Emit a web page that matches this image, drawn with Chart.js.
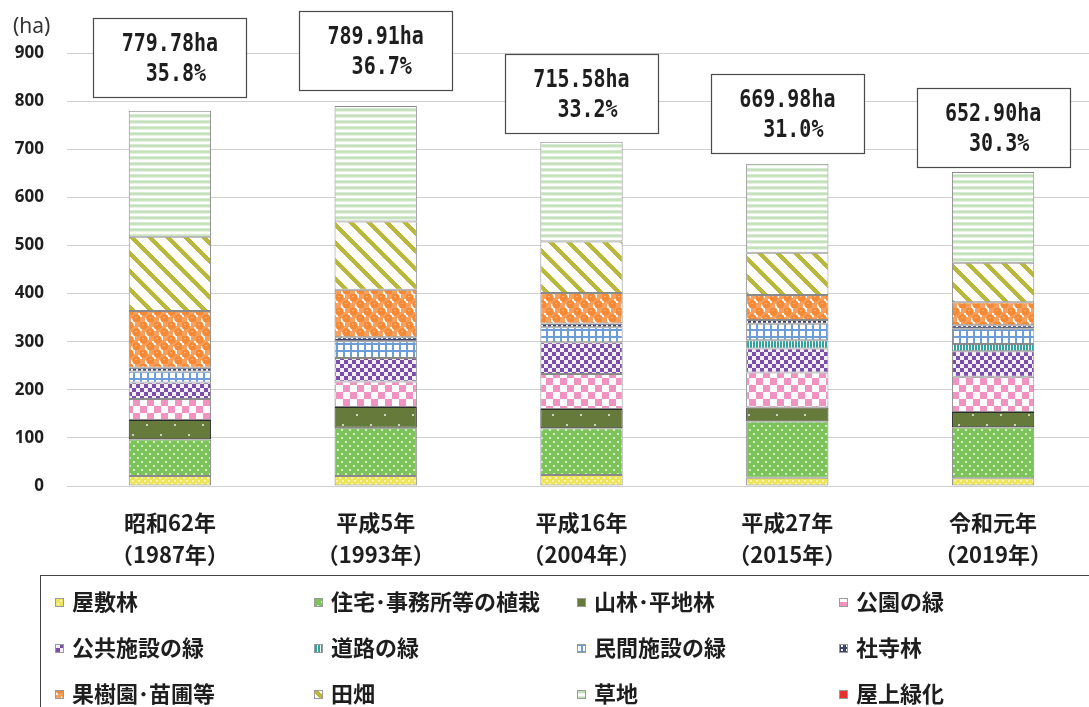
<!DOCTYPE html>
<html lang="ja">
<head>
<meta charset="utf-8">
<script src="https://cdn.jsdelivr.net/npm/chart.js@4.4.1/dist/chart.umd.min.js"></script>
<style>
html, body { margin: 0; padding: 0; background: #fff; overflow: hidden; }
#wrap { position: relative; width: 1100px; height: 707px; }
</style>
</head>
<body>
<div id="wrap"><canvas id="greenChart" width="1100" height="707"></canvas></div>
<script>
// 年次（X軸）
const years = [
    ['昭和62年', '（1987年）'],
    ['平成5年', '（1993年）'],
    ['平成16年', '（2004年）'],
    ['平成27年', '（2015年）'],
    ['令和元年', '（2019年）']
];

// 各区分の面積 (ha)
const yashikirin = [21, 21, 23, 17, 16];
const jutaku     = [76, 100, 97, 117, 106];
const sanrin     = [40, 43, 40, 29, 32];
const koen       = [44, 53, 73, 73, 73];
const kokyo      = [34, 49, 66, 50, 53];
const doro       = [0, 0, 0, 17, 15];
const minkan     = [23, 35, 31, 34, 32];
const shajirin   = [8, 8, 8, 8, 7];
const kaju       = [118, 99, 63, 52, 48];
const tahata     = [154, 142, 107, 88, 82];
const kusachi    = [261.78, 239.91, 207.58, 184.98, 188.90];
const okujo      = [0, 0, 0, 0, 0];

// 吹き出しの数値
const totalArea  = [779.78, 789.91, 715.58, 669.98, 652.90];
const greenRatio = [35.8, 36.7, 33.2, 31.0, 30.3];

const yTicks = [0, 100, 200, 300, 400, 500, 600, 700, 800, 900];

// --- 塗りパターン ---
function tile(w, h, paint) {
    const c = document.createElement('canvas');
    c.width = w; c.height = h;
    const g = c.getContext('2d');
    paint(g, w, h);
    return g.createPattern(c, 'repeat');
}

const patYashiki = tile(6, 6, (g) => {
    g.fillStyle = '#ece55a'; g.fillRect(0, 0, 6, 6);
    g.fillStyle = '#f8f3ae';
    g.fillRect(0, 0, 2, 2); g.fillRect(3, 3, 2, 2);
});
const patJutaku = tile(8, 8, (g) => {
    g.fillStyle = '#7cc45a'; g.fillRect(0, 0, 8, 8);
    g.fillStyle = '#f2faec';
    g.beginPath(); g.arc(2, 2, 1.0, 0, Math.PI * 2); g.fill();
    g.beginPath(); g.arc(6, 6, 1.0, 0, Math.PI * 2); g.fill();
});
const patSanrin = tile(28, 20, (g) => {
    g.fillStyle = '#657a3b'; g.fillRect(0, 0, 28, 20);
    g.fillStyle = '#e8eedc';
    g.beginPath(); g.arc(7, 5, 1.1, 0, Math.PI * 2); g.fill();
    g.beginPath(); g.arc(21, 15, 1.1, 0, Math.PI * 2); g.fill();
});
const patKoen = tile(14, 14, (g) => {
    g.fillStyle = '#ffffff'; g.fillRect(0, 0, 14, 14);
    g.fillStyle = '#f093c1';
    g.fillRect(0, 0, 7, 7); g.fillRect(7, 7, 7, 7);
});
const patKokyo = tile(8, 8, (g) => {
    g.fillStyle = '#f4f0f8'; g.fillRect(0, 0, 8, 8);
    g.fillStyle = '#7a4ea9';
    g.fillRect(0, 0, 4, 4); g.fillRect(4, 4, 4, 4);
});
const patDoro = tile(3, 1, (g) => {
    g.fillStyle = '#32a39c'; g.fillRect(0, 0, 2, 1);
    g.fillStyle = '#ffffff'; g.fillRect(2, 0, 1, 1);
});
const patMinkan = tile(7, 7, (g) => {
    g.fillStyle = '#ffffff'; g.fillRect(0, 0, 7, 7);
    g.fillStyle = '#6c9dd9';
    g.fillRect(0, 0, 7, 2); g.fillRect(0, 0, 2, 7);
});
const patShaji = tile(5, 4, (g) => {
    g.fillStyle = '#3a416e'; g.fillRect(0, 0, 5, 4);
    g.fillStyle = '#ffffff'; g.fillRect(1, 1, 2, 2);
});
const patKaju = tile(14, 14, (g) => {
    g.fillStyle = '#f7a05e'; g.fillRect(0, 0, 14, 14);
    g.fillStyle = '#ffffff';
    g.fillRect(5, 0, 4, 4); g.fillRect(12, 5, 2, 4); g.fillRect(0, 5, 2, 4);
    g.fillRect(5, 10, 4, 4);
    g.fillStyle = '#f48a35';
    g.beginPath(); g.arc(3.5, 3.5, 4.2, 0, Math.PI * 2); g.fill();
    g.beginPath(); g.arc(10.5, 10.5, 4.2, 0, Math.PI * 2); g.fill();
    g.fillStyle = '#f9b27c';
    g.fillRect(2, 2, 2, 1); g.fillRect(9, 9, 2, 1);
});
const patTahata = tile(18, 18, (g) => {
    const img = g.createImageData(18, 18);
    for (let y = 0; y < 18; y++) {
        for (let x = 0; x < 18; x++) {
            const k = (y * 18 + x) * 4;
            const on = (((x - y) % 18) + 18) % 18 < 6;
            img.data[k] = on ? 0xb9 : 0xff;
            img.data[k + 1] = on ? 0xb8 : 0xff;
            img.data[k + 2] = on ? 0x3a : 0xff;
            img.data[k + 3] = 255;
        }
    }
    g.putImageData(img, 0, 0);
});
const patKusachi = tile(1, 6, (g) => {
    const rows = ['#d6ebd2', '#c2e0bb', '#c6e2bf', '#e6f3e3', '#ffffff', '#ffffff'];
    rows.forEach((c, i) => { g.fillStyle = c; g.fillRect(0, i, 1, 1); });
});

const barBorder = '#8a8a8a';

function series(label, data, fill, border) {
    return {
        label: label,
        data: data,
        backgroundColor: fill,
        borderColor: border || barBorder,
        borderWidth: 1,
        borderSkipped: false
    };
}

// 吹き出し（合計面積・緑被率）
const boxGap = [14, 16, 9, 11, 5];
const totalBoxes = {
    id: 'totalBoxes',
    afterDatasetsDraw(chart) {
        const ctx = chart.ctx;
        const xs = chart.scales.x, ys = chart.scales.y;
        ctx.save();
        for (let i = 0; i < totalArea.length; i++) {
            const cx = xs.getPixelForValue(i);
            const top = ys.getPixelForValue(totalArea[i]);
            const w = 153, h = 79;
            const bx = Math.round(cx - w / 2) + 0.5;
            const by = Math.round(top - boxGap[i] - h) + 0.5;
            ctx.fillStyle = '#fff';
            ctx.fillRect(bx, by, w, h);
            ctx.strokeStyle = '#4a4a4a';
            ctx.lineWidth = 1.2;
            ctx.strokeRect(bx, by, w, h);

            const line1 = totalArea[i].toFixed(2) + 'ha';
            const line2 = '  ' + greenRatio[i].toFixed(1) + '%';
            ctx.font = 'bold 20px "DejaVu Sans Mono"';
            ctx.fillStyle = '#1e1e1e';
            ctx.textBaseline = 'middle';
            ctx.textAlign = 'left';
            const tx = cx - ctx.measureText(line1).width / 2;
            [[line1, 26], [line2, 56]].forEach(([t, dy]) => {
                ctx.save();
                ctx.translate(tx, by + dy);
                ctx.scale(1, 1.25);
                ctx.fillText(t, 0, 0);
                ctx.restore();
            });
        }
        ctx.restore();
    }
};

// 凡例（4列×3行）と単位
const legendCols = [72, 331, 594, 856];
const legendRows = [602, 648, 694];
const gridLegend = {
    id: 'gridLegend',
    afterDraw(chart) {
        const ctx = chart.ctx;
        ctx.save();
        ctx.strokeStyle = '#444';
        ctx.lineWidth = 1;
        ctx.strokeRect(40.5, 575.5, 1100, 200);

        ctx.font = 'bold 22px "Noto Sans CJK JP"';
        ctx.textBaseline = 'middle';
        ctx.textAlign = 'left';
        chart.data.datasets.forEach((ds, k) => {
            const tx = legendCols[k % 4];
            const ty = legendRows[Math.floor(k / 4)];
            const mx = tx - 17, my = ty - 4;
            ctx.fillStyle = ds.backgroundColor;
            ctx.fillRect(mx, my, 9, 9);
            ctx.strokeStyle = '#9a9a9a';
            ctx.strokeRect(mx + 0.5, my + 0.5, 8, 8);
            ctx.fillStyle = '#1e1e1e';
            ctx.fillText(ds.label, tx, ty);
        });

        ctx.font = '21px "Noto Sans"';
        ctx.fillStyle = '#333';
        ctx.fillText('(ha)', 13, 27);
        ctx.restore();
    }
};

new Chart(document.getElementById('greenChart'), {
    type: 'bar',
    data: {
        labels: years,
        datasets: [
            series('屋敷林', yashikirin, patYashiki),
            series('住宅･事務所等の植栽', jutaku, patJutaku),
            series('山林･平地林', sanrin, patSanrin, '#2b2b2b'),
            series('公園の緑', koen, patKoen),
            series('公共施設の緑', kokyo, patKokyo),
            series('道路の緑', doro, patDoro),
            series('民間施設の緑', minkan, patMinkan),
            series('社寺林', shajirin, patShaji),
            series('果樹園･苗圃等', kaju, patKaju),
            series('田畑', tahata, patTahata),
            series('草地', kusachi, patKusachi),
            series('屋上緑化', okujo, '#e8302c')
        ]
    },
    options: {
        responsive: false,
        animation: false,
        devicePixelRatio: 1,
        layout: { padding: { top: 53, right: 4, left: 0, bottom: 0 } },
        datasets: { bar: { barPercentage: 0.4, categoryPercentage: 1 } },
        plugins: {
            legend: { display: false },
            tooltip: { enabled: false }
        },
        scales: {
            x: {
                stacked: true,
                grid: { display: false },
                border: { display: false },
                afterFit: (s) => { s.height = 221; },
                ticks: {
                    color: '#1e1e1e',
                    maxRotation: 0,
                    autoSkip: false,
                    padding: 13,
                    font: { family: '"Noto Sans CJK JP"', size: 22, weight: 'bold', lineHeight: 1.43 }
                }
            },
            y: {
                stacked: true,
                min: 0,
                max: 900,
                afterFit: (s) => { s.width = 67; },
                afterBuildTicks: (s) => { s.ticks = yTicks.map(v => ({ value: v })); },
                grid: { color: '#d0d0d0', lineWidth: 1, drawTicks: false },
                border: { display: false },
                ticks: {
                    color: '#1e1e1e',
                    padding: 23,
                    font: { family: '"Open Sans"', size: 17, weight: 'bold' }
                }
            }
        }
    },
    plugins: [totalBoxes, gridLegend]
});
</script>
</body>
</html>
